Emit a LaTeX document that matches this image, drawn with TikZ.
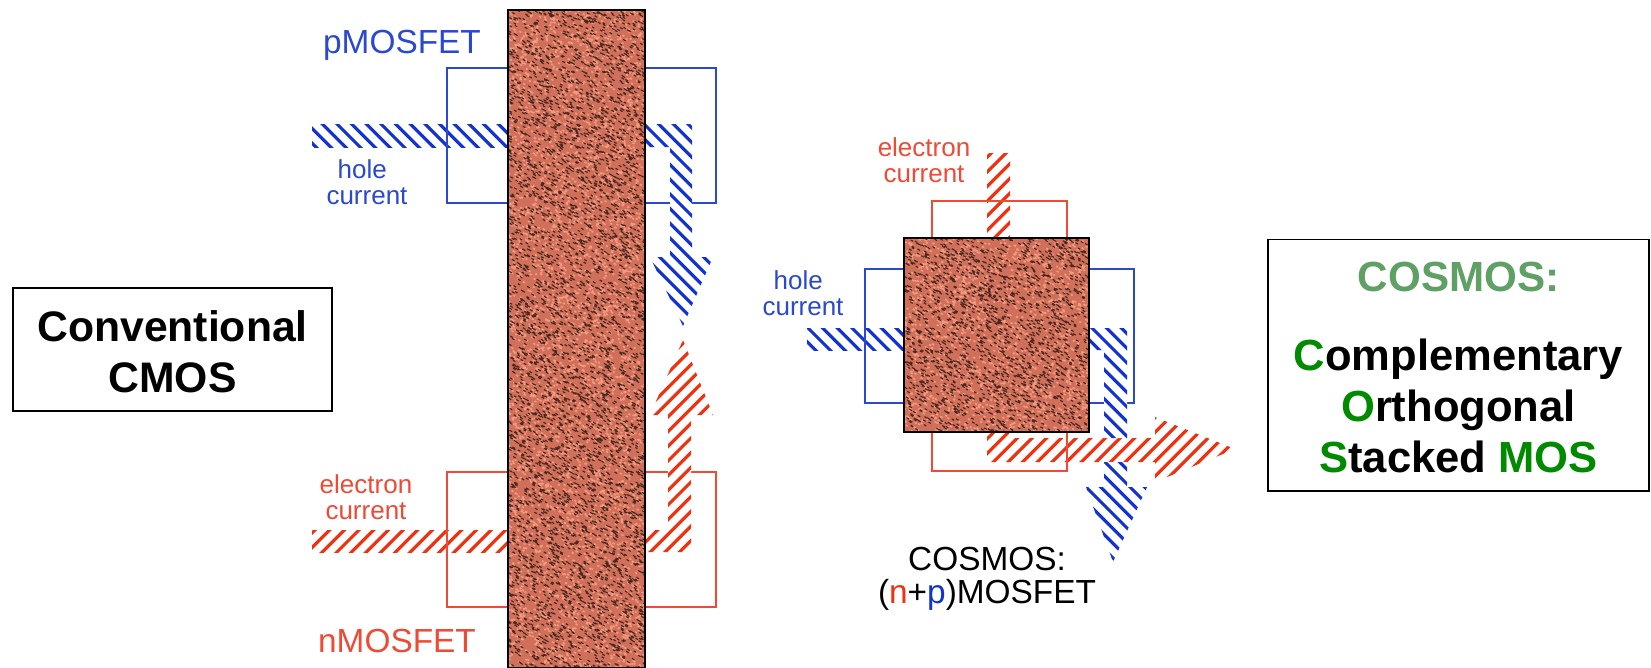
\documentclass[tikz,border=0pt]{standalone}
\usepackage{fontspec}
\setmainfont{Liberation Sans}
\usepackage{tikz}
\definecolor{holeblue}{HTML}{1232D2}
\definecolor{elecred}{HTML}{F0300F}
\definecolor{boxblue}{HTML}{2A48D0}
\definecolor{boxred}{HTML}{EE4A35}
\definecolor{gatebase}{HTML}{D0705A}
\definecolor{gatedark}{HTML}{4A2820}
\definecolor{gatelight}{HTML}{F49A80}
\definecolor{cosgreen}{HTML}{5FA065}
\definecolor{mosgreen}{HTML}{008A00}
\tikzset{
  bluehatch/.style={fill=white, path picture={\foreach \k in {-40,...,40} \draw[holeblue, line width=1.8pt] ({#1+\k*14.67},0) -- ++(680,680);}},
  redhatch/.style={fill=white, path picture={\foreach \k in {-40,...,40} \draw[elecred, line width=1.8pt] ({#1+\k*14.67},0) -- ++(-680,680);}},
  pbox/.style={draw=boxblue, line width=0.85pt},
  nbox/.style={draw=boxred, line width=0.85pt},
  smalltext/.style={inner sep=0, align=center, font=\fontsize{14.8}{14.6}\selectfont},
  bigtext/.style={inner sep=0, align=center, font=\fontsize{19}{18.9}\selectfont},
  keybox/.style={draw=black, line width=1.1pt, fill=white, inner sep=0},
  keytext/.style={align=center, inner sep=0, font=\fontsize{24.8}{29}\selectfont\bfseries},
}
\newcommand{\gatebar}[5]{
  \begin{scope}
  \clip (#1,#2) rectangle (#3,#4);
  \fill[gatebase] (#1,#2) rectangle (#3,#4);
  \draw[gatelight, line width=0.9pt] foreach \i in {1,...,#5} {({#1+rnd*(#3-#1)},{#2+rnd*(#4-#2)}) -- ++(2,1)};
  \draw[gatedark, line width=0.65pt] foreach \i in {1,...,#5} {({#1+rnd*(#3-#1)},{#2+rnd*(#4-#2)}) -- ++(2.5,1.5)};
  \end{scope}
  \draw[black, line width=1.1pt] (#1,#2) rectangle (#3,#4);
}

\begin{document}
\begin{tikzpicture}[x=0.02cm, y=-0.02cm]
\useasboundingbox (0,0) rectangle (1651,667);
\pgfmathsetseed{11}

\path[bluehatch=213] (312,124) rectangle (508,147);
\path[redhatch=889] (312,530) rectangle (508,552);
\path[redhatch=1159] (987,153) rectangle (1010,238);
\path[bluehatch=480] (807,328) rectangle (904,350);
\path[redhatch=1470] (987,432) -- (1009,432) -- (1009,438) -- (1155,438) -- (1155,417) -- (1235,449) -- (1155,482) -- (1155,462) -- (987,462) -- cycle;

\draw[pbox] (447,68) rectangle (716,203);
\draw[nbox] (447,472) rectangle (716,607);
\draw[nbox] (932,201) rectangle (1067,471);
\draw[pbox] (865,269) rectangle (1134,403);

\path[bluehatch=520] (645,124) -- (692,124) -- (692,257) -- (713,257) -- (683,326) -- (650,257) -- (670,257) -- (670,147) -- (645,147) -- cycle;
\path[redhatch=1217] (645,552) -- (691,552) -- (691,415) -- (713,415) -- (683,340) -- (650,415) -- (668,415) -- (668,530) -- (645,530) -- cycle;
\path[bluehatch=764] (1089,328) -- (1127,328) -- (1127,438) -- (1104,438) -- (1104,350) -- (1089,350) -- cycle;
\path[bluehatch=599] (1104,462) -- (1127,462) -- (1127,487) -- (1147,487) -- (1113,562) -- (1086,487) -- (1104,487) -- cycle;

\gatebar{508}{10}{645}{668}{4500}
\gatebar{904}{238}{1089}{432}{1800}

\node[bigtext, text=boxblue, anchor=base] (pmos) at (402,53) {pMOSFET};
\node[bigtext, text=boxred, anchor=base] (nmos) at (397,652) {nMOSFET};
\node[smalltext, text=boxblue] (holeleft) at (367,182) {hole\hspace*{5.5pt}\\current};
\node[smalltext, text=boxred] (elecleft) at (366,497) {electron\\current};
\node[smalltext, text=boxred] (electop) at (924,160) {electron\\current};
\node[smalltext, text=boxblue] (holemid) at (803,293) {hole\hspace*{5.5pt}\\current};
\node[bigtext] (cosmos) at (987,579) {COSMOS:\\(\textcolor{elecred}{n}+\textcolor{holeblue}{p})MOSFET};

\node[keybox, minimum width=181.5pt, minimum height=69.7pt] (cmosbox) at (172.5,349.5) {};
\node[keytext, font=\fontsize{24.3}{29}\selectfont\bfseries] (cmostext) at (172.5,351.5) {Conventional\\CMOS};
\node[keybox, minimum width=217pt, minimum height=142.9pt] (cosbox) at (1458.5,365) {};
\node[keytext] (costext) at (1458.5,367.5) {{\fontsize{24}{29}\selectfont\textcolor{cosgreen}{COSMOS:}}\\[16pt]\textcolor{mosgreen}{C}omplementary\\\textcolor{mosgreen}{O}rthogonal\\\textcolor{mosgreen}{S}tacked \textcolor{mosgreen}{MOS}};

\end{tikzpicture}
\end{document}
